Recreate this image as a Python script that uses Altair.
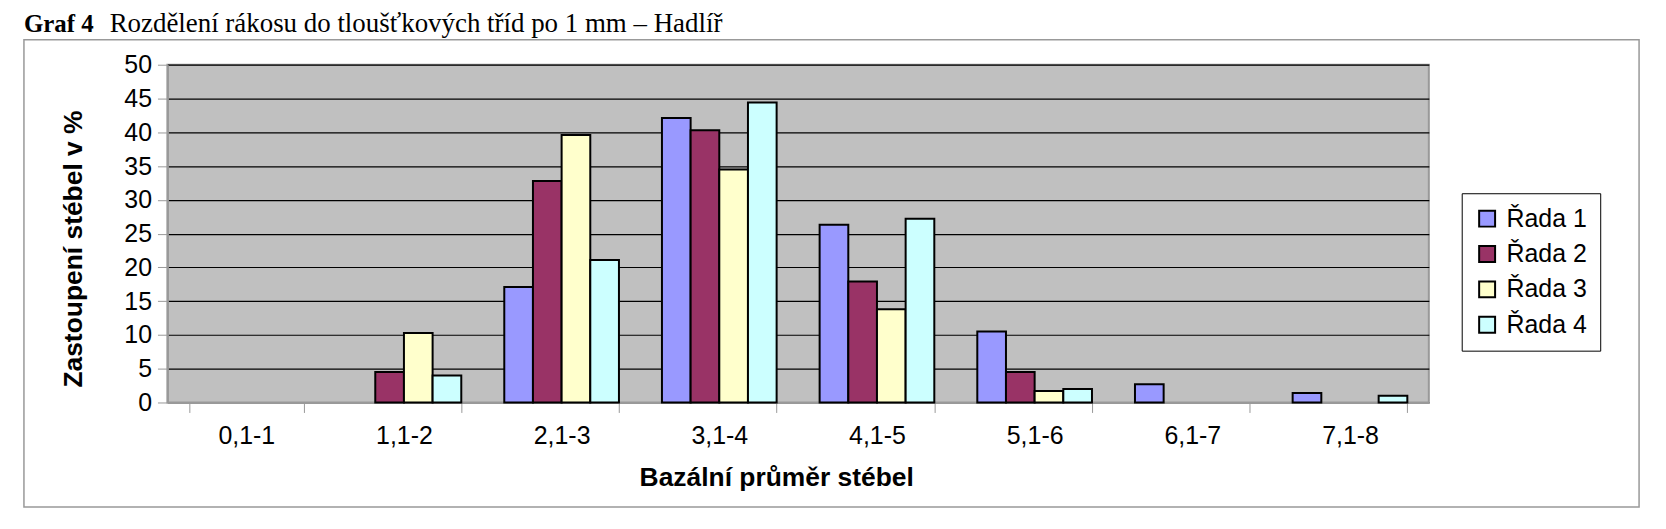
import altair as alt
import pandas as pd

categories = ["0,1-1", "1,1-2", "2,1-3", "3,1-4", "4,1-5", "5,1-6", "6,1-7", "7,1-8"]
series = ["Řada 1", "Řada 2", "Řada 3", "Řada 4"]
rada1 = [0, 0, 17.1, 42.1, 26.3, 10.5, 2.7, 1.4]
rada2 = [0, 4.5, 32.8, 40.3, 17.9, 4.5, 0, 0]
rada3 = [0, 10.3, 39.6, 34.5, 13.8, 1.7, 0, 0]
rada4 = [0, 4.0, 21.1, 44.4, 27.2, 2.0, 0, 1.0]
colors = ["#9999FF", "#993366", "#FFFFCC", "#CCFFFF"]
y_ticks = [0, 5, 10, 15, 20, 25, 30, 35, 40, 45, 50]

title_bold = "Graf 4"
title_rest = "Rozdělení rákosu do tloušťkových tříd po 1 mm – Hadlíř"
x_title = "Bazální průměr stébel"
y_title = "Zastoupení stébel v %"

rows = []
for s, vals in zip(series, [rada1, rada2, rada3, rada4]):
    for c, v in zip(categories, vals):
        rows.append({"kategorie": c, "rada": s, "hodnota": v})
df = pd.DataFrame(rows)

W, H = 1266, 339
SANS = "Liberation Sans"
SERIF = "Liberation Serif"

frame = alt.Chart(pd.DataFrame({"k": [0]})).mark_rect(
    fillOpacity=0, stroke="#999999", strokeWidth=1.5
).encode(
    x=alt.value(-144), x2=alt.value(1477), y=alt.value(-25), y2=alt.value(444)
)

t1 = alt.Chart(pd.DataFrame({"t": [title_bold]})).mark_text(
    font=SERIF, fontSize=25, fontWeight="bold", align="left", baseline="alphabetic", color="black"
).encode(text="t:N", x=alt.value(-144), y=alt.value(-33))

t2 = alt.Chart(pd.DataFrame({"t": [title_rest]})).mark_text(
    font=SERIF, fontSize=27, align="left", baseline="alphabetic", color="black"
).encode(text="t:N", x=alt.value(-58), y=alt.value(-33))

bars = alt.Chart(df).transform_filter("datum.hodnota > 0").mark_bar(
    stroke="black", strokeWidth=2
).encode(
    x=alt.X(
        "kategorie:N",
        sort=categories,
        scale=alt.Scale(domain=categories, paddingInner=0.2727, paddingOuter=0.1364),
        axis=alt.Axis(
            title=x_title, labelAngle=0, tickBand="extent", labelFont=SANS, labelFontSize=25,
            labelColor="black", titleFont=SANS, titleFontSize=26.5, titleFontWeight="bold",
            titleColor="black", tickColor="#999999", tickSize=10, labelPadding=11,
            titlePadding=16, titleX=W / 2 - 22, domainColor="#999999", domainWidth=2, grid=False,
        ),
    ),
    xOffset=alt.XOffset("rada:N", scale=alt.Scale(domain=series, paddingInner=0, paddingOuter=0)),
    y=alt.Y(
        "hodnota:Q",
        scale=alt.Scale(domain=[0, 50], nice=False),
        axis=alt.Axis(
            title=y_title, values=y_ticks, labelFont=SANS, labelFontSize=25, labelColor="black",
            titleFont=SANS, titleFontSize=26.5, titleFontWeight="bold", titleColor="black",
            tickColor="#999999", tickSize=10, labelPadding=6, titlePadding=36, titleY=H / 2 + 15,
            domainColor="#999999", domainWidth=2, grid=True, gridColor="black", gridWidth=1.2,
        ),
    ),
    color=alt.Color(
        "rada:N",
        scale=alt.Scale(domain=series, range=colors),
        legend=alt.Legend(
            title=None, orient="none", legendX=1299, legendY=129, strokeColor="black",
            fillColor="white", padding=13, labelFont=SANS, labelFontSize=25, labelColor="black",
            symbolType="square", symbolSize=256, symbolStrokeColor="black", symbolStrokeWidth=2,
            symbolOpacity=1, rowPadding=9.5, labelOffset=7, labelExpr="datum.label + ' '",
        ),
    ),
)

chart = alt.layer(frame, t1, t2, bars).properties(
    width=W, height=H,
    autosize=alt.AutoSizeParams(type="none"),
    padding={"left": 160, "top": 56, "right": 230, "bottom": 110},
).configure_view(fill="#C0C0C0", stroke="#999999", strokeWidth=2)

chart.save("out.html", embed_options={"renderer": "svg", "actions": False})
